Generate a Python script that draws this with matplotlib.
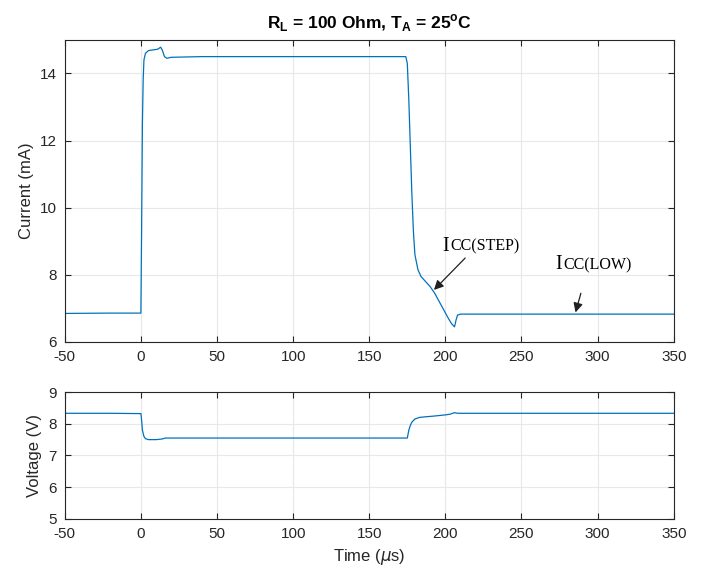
import numpy as np
import matplotlib.pyplot as plt

# Supply current trace (mA) versus time (us)
t_cur = [-50, -20, 0, 0.5, 1, 1.5, 2, 3, 5, 8, 11, 13, 14, 15.5, 17, 20, 40, 100, 150, 174,
         175, 176, 177, 178, 179, 180, 182, 184, 187, 190, 193, 196, 199, 202, 204, 206,
         207, 208, 210, 215, 250, 300, 350]
i_cur = [6.85, 6.86, 6.86, 9.5, 12.5, 13.8, 14.4, 14.6, 14.68, 14.7, 14.72, 14.78, 14.7, 14.5,
         14.45, 14.48, 14.5, 14.5, 14.5, 14.5,
         14.3, 13.2, 11.8, 10.4, 9.3, 8.6, 8.15, 7.95, 7.8, 7.65, 7.45, 7.2, 6.95, 6.7, 6.55, 6.45,
         6.65, 6.8, 6.83, 6.83, 6.83, 6.83, 6.83]

# Supply voltage trace (V)
t_volt = [-50, -20, 0, 0.5, 1, 2, 3, 5, 10, 14, 16, 50, 100, 150, 175,
          176, 177, 178, 180, 183, 187, 192, 196, 200, 203, 206, 208, 210, 250, 300, 350]
v_volt = [8.33, 8.33, 8.32, 8.1, 7.8, 7.6, 7.53, 7.5, 7.5, 7.52, 7.55, 7.55, 7.55, 7.55, 7.55,
          7.8, 7.95, 8.05, 8.15, 8.2, 8.22, 8.24, 8.26, 8.28, 8.3, 8.35, 8.33, 8.33, 8.33, 8.33, 8.33]

blue = (0, 0.447, 0.741)
plt.rcParams['font.family'] = ['Liberation Sans', 'DejaVu Sans']
plt.rcParams['axes.unicode_minus'] = False

fig = plt.figure(figsize=(7.04, 5.69), dpi=100)
ax1 = fig.add_axes([0.092, 0.399, 0.865, 0.531])
ax2 = fig.add_axes([0.092, 0.088, 0.865, 0.223])

def style(ax):
    ax.grid(True, color='#e8e8e8', linewidth=0.8)
    ax.set_axisbelow(True)
    for s in ax.spines.values():
        s.set_color('#262626')
        s.set_linewidth(0.8)
    ax.tick_params(direction='in', labelsize=11, colors='#262626', length=4,
                   top=True, right=True, pad=6)
    ax.set_xlim(-50, 350)
    ax.set_xticks(np.arange(-50, 351, 50))

ax1.plot(t_cur, i_cur, color=blue, linewidth=0.9)
style(ax1)
ax1.set_ylim(6, 15)
ax1.set_yticks([6, 8, 10, 12, 14])
ax1.set_ylabel('Current (mA)', fontsize=12, color='#262626')
ax1.set_title(r'R$_\mathregular{L}$ = 100 Ohm, T$_\mathregular{A}$ = 25$^\mathregular{o}$C',
              fontsize=12.5, fontweight='bold', pad=8)

serif = ['Liberation Serif', 'DejaVu Serif']
arrow = dict(arrowstyle='-|>', color='#202020', lw=0.9, mutation_scale=14,
             shrinkA=0, shrinkB=0)
ax1.text(198, 8.72, 'I', fontsize=14.5, family=serif, va='baseline')
ax1.text(203, 8.72, 'CC(STEP)', fontsize=11.5, family=serif, va='baseline')
ax1.annotate('', xy=(192.5, 7.55), xytext=(213, 8.5), arrowprops=arrow)
ax1.text(272.5, 8.17, 'I', fontsize=14.5, family=serif, va='baseline')
ax1.text(277.5, 8.17, 'CC(LOW)', fontsize=11.5, family=serif, va='baseline')
ax1.annotate('', xy=(285.5, 6.88), xytext=(289, 7.45), arrowprops=arrow)

ax2.plot(t_volt, v_volt, color=blue, linewidth=0.9)
style(ax2)
ax2.set_ylim(5, 9)
ax2.set_yticks([5, 6, 7, 8, 9])
ax2.set_ylabel('Voltage (V)', fontsize=12, color='#262626')
ax2.set_xlabel(r'Time ($\mu$s)', fontsize=12, color='#262626')

fig.savefig('out.png', dpi=100)
